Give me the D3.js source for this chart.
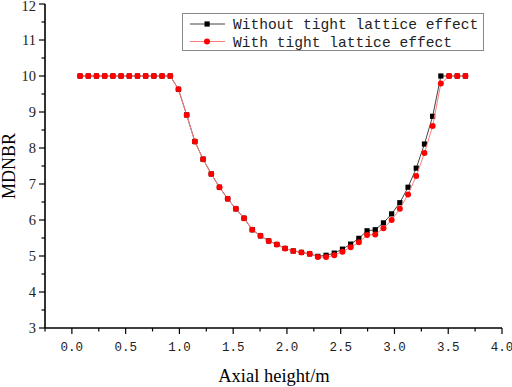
<!DOCTYPE html>
<html>
<head>
<meta charset="utf-8">
<script src="https://cdn.jsdelivr.net/npm/d3@7"></script>
<style>
  body { margin: 0; background: #fff; }
  svg { display: block; }
</style>
</head>
<body>
<div id="chart"></div>
<script>
// axial positions (m), 48 nodes
const heights = d3.range(48).map(i => +(3.66 * (i + 1) / 48).toFixed(4))

// MDNBR without tight lattice effect
const withoutTight = [
  10, 10, 10, 10, 10, 10, 10, 10, 10, 10, 10, 10,
  9.63, 8.92, 8.18, 7.69, 7.28, 6.91, 6.59, 6.31, 6.05, 5.73,
  5.56, 5.42, 5.32, 5.21, 5.14, 5.10, 5.06,
  4.99, 5.02, 5.08, 5.19, 5.33, 5.49, 5.70, 5.73, 5.92, 6.17, 6.48,
  6.91, 7.44, 8.11, 8.88, 10, 10, 10, 10
]
// MDNBR with tight lattice effect
const withTight = [
  10, 10, 10, 10, 10, 10, 10, 10, 10, 10, 10, 10,
  9.63, 8.92, 8.18, 7.69, 7.28, 6.91, 6.59, 6.31, 6.05, 5.73,
  5.56, 5.42, 5.32, 5.21, 5.14, 5.10, 5.06,
  4.97, 4.97, 5.02, 5.12, 5.24, 5.38, 5.58, 5.60, 5.77, 6.00, 6.31,
  6.71, 7.22, 7.86, 8.61, 9.79, 10, 10, 10
]

const xTicks = [0, 0.5, 1, 1.5, 2, 2.5, 3, 3.5, 4]
const yTicks = [3, 4, 5, 6, 7, 8, 9, 10, 11, 12]
const seriesNames = ['Without tight lattice effect', 'With tight lattice effect']

const width = 512
const height = 387
const margin = { top: 4, right: 10, bottom: 59, left: 45 }

const svg = d3.select('#chart').append('svg')
  .attr('width', width)
  .attr('height', height)

const x = d3.scaleLinear().domain([-0.25, 4.0]).range([margin.left, width - margin.right])
const y = d3.scaleLinear().domain([3, 12]).range([height - margin.bottom, margin.top])

// x axis
const xAxis = svg.append('g')
  .attr('transform', `translate(0, ${y(3)})`)
xAxis.append('line')
  .attr('x1', x(-0.25)).attr('x2', x(4))
  .attr('stroke', '#000').attr('stroke-width', 1.6)
xAxis.selectAll('.minor')
  .data(d3.range(-0.25, 4.01, 0.5))
  .join('line')
  .attr('x1', d => x(d)).attr('x2', d => x(d))
  .attr('y1', 0).attr('y2', 3.5)
  .attr('stroke', '#000').attr('stroke-width', 1.2)
xAxis.selectAll('.major')
  .data(xTicks)
  .join('line')
  .attr('x1', d => x(d)).attr('x2', d => x(d))
  .attr('y1', 0).attr('y2', 6)
  .attr('stroke', '#000').attr('stroke-width', 1.2)
xAxis.selectAll('text')
  .data(xTicks)
  .join('text')
  .attr('x', d => x(d))
  .attr('y', 23)
  .attr('text-anchor', 'middle')
  .attr('font-family', 'Liberation Mono, monospace')
  .attr('font-size', 12.5)
  .attr('fill', '#222')
  .text(d => d.toFixed(1))

// y axis
const yAxis = svg.append('g')
  .attr('transform', `translate(${x(-0.25)}, 0)`)
yAxis.append('line')
  .attr('y1', y(3)).attr('y2', y(12))
  .attr('stroke', '#000').attr('stroke-width', 1.6)
yAxis.selectAll('.minor')
  .data(d3.range(3.5, 12, 1))
  .join('line')
  .attr('y1', d => y(d)).attr('y2', d => y(d))
  .attr('x1', 0).attr('x2', -3.5)
  .attr('stroke', '#000').attr('stroke-width', 1.2)
yAxis.selectAll('.major')
  .data(yTicks)
  .join('line')
  .attr('y1', d => y(d)).attr('y2', d => y(d))
  .attr('x1', 0).attr('x2', -6)
  .attr('stroke', '#000').attr('stroke-width', 1.2)
yAxis.selectAll('text')
  .data(yTicks)
  .join('text')
  .attr('x', -9)
  .attr('y', d => Math.max(y(d), 6))
  .attr('dy', '0.34em')
  .attr('text-anchor', 'end')
  .attr('font-family', 'Liberation Serif, serif')
  .attr('font-size', 14.5)
  .attr('fill', '#222')
  .text(d => d)

// axis titles
svg.append('text')
  .attr('x', 274)
  .attr('y', 382)
  .attr('text-anchor', 'middle')
  .attr('font-family', 'Liberation Serif, serif')
  .attr('font-size', 18.5)
  .text('Axial height/m')
svg.append('text')
  .attr('transform', `translate(15, ${y(7.5)}) rotate(-90)`)
  .attr('text-anchor', 'middle')
  .attr('font-family', 'Liberation Serif, serif')
  .attr('font-size', 18)
  .text('MDNBR')

// lines
const line = d3.line().x((d, i) => x(heights[i])).y(d => y(d))

svg.append('path')
  .datum(withoutTight)
  .attr('d', line)
  .attr('fill', 'none')
  .attr('stroke', '#444')
  .attr('stroke-width', 1)
svg.selectAll('.sq')
  .data(withoutTight)
  .join('rect')
  .attr('class', 'sq')
  .attr('x', (d, i) => x(heights[i]) - 2.6)
  .attr('y', d => y(d) - 2.6)
  .attr('width', 5.2)
  .attr('height', 5.2)
  .attr('fill', '#000')

svg.append('path')
  .datum(withTight)
  .attr('d', line)
  .attr('fill', 'none')
  .attr('stroke', '#ff7a7a')
  .attr('stroke-width', 1)
svg.selectAll('.dot')
  .data(withTight)
  .join('circle')
  .attr('class', 'dot')
  .attr('cx', (d, i) => x(heights[i]))
  .attr('cy', d => y(d))
  .attr('r', 3)
  .attr('fill', '#ff0000')

// legend
const legend = svg.append('g')
legend.append('rect')
  .attr('x', 182.5).attr('y', 13.5)
  .attr('width', 301).attr('height', 37)
  .attr('fill', '#fff')
  .attr('stroke', '#888')
  .attr('stroke-width', 1)
const rows = legend.selectAll('.row')
  .data(seriesNames)
  .join('g')
  .attr('transform', (d, i) => `translate(0, ${24 + i * 17.5})`)
rows.append('line')
  .attr('x1', 190).attr('x2', 225)
  .attr('stroke', (d, i) => i === 0 ? '#444' : '#ff7a7a')
  .attr('stroke-width', 1)
rows.filter((d, i) => i === 0).append('rect')
  .attr('x', 204.5).attr('y', -2.6).attr('width', 5.2).attr('height', 5.2)
  .attr('fill', '#000')
rows.filter((d, i) => i === 1).append('circle')
  .attr('cx', 207).attr('cy', 0).attr('r', 3)
  .attr('fill', '#ff0000')
rows.append('text')
  .attr('x', 233)
  .attr('dy', '0.35em')
  .attr('font-family', 'Liberation Mono, monospace')
  .attr('font-size', 14.6)
  .attr('fill', '#222')
  .text(d => d)
</script>
</body>
</html>
